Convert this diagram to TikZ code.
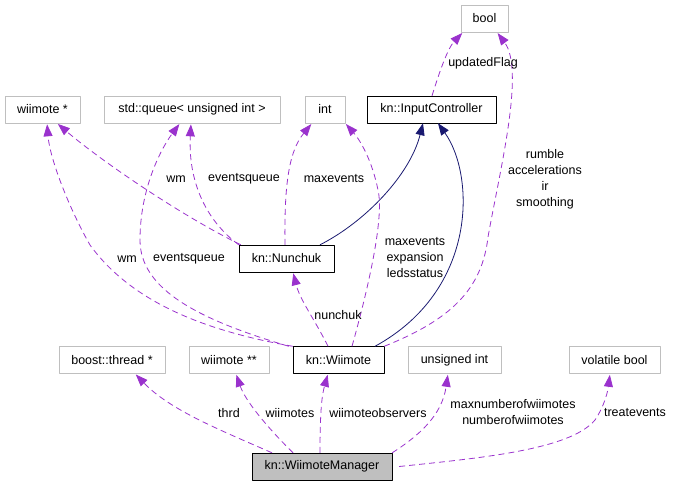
\documentclass[tikz,border=0pt]{standalone}
\usepackage{fontspec}
\setmainfont{Liberation Sans}
\usetikzlibrary{arrows.meta}
\definecolor{usecol}{HTML}{9A32CD}
\definecolor{inhcol}{HTML}{191970}
\definecolor{boxgray}{HTML}{BFBFBF}
\begin{document}
\begin{tikzpicture}[x=1pt,y=-1pt,font=\fontsize{12.5}{16}\selectfont,line join = round, >={Triangle[length=11pt,width=8pt]},
	box/.style={rectangle,draw=black,minimum height=27pt,inner sep=0pt},
	extbox/.style={box,draw=boxgray},
	usage/.style={draw=usecol,fill=none,line width=0.8pt,dash pattern=on 6pt off 4pt,->,>={Triangle[length=12pt,width=9pt,fill=usecol,sep]}},
	inherit/.style={draw=inhcol,line width=0.8pt,->,>={Triangle[length=12pt,width=9pt]}},
	lbl/.style={inner sep=0pt,align=center}]
	\useasboundingbox (0,0) rectangle (673,485);
	% type boxes
	\node[extbox,minimum width=47pt] (bool) at (484.5,18.5) {bool};
	\node[extbox,minimum width=75pt] (wiiptr) at (42.5,109.5) {wiimote *};
	\node[extbox,minimum width=176pt] (queue) at (192,109.5) {std::queue< unsigned int >};
	\node[extbox,minimum width=40pt] (int) at (325,109.5) {int};
	\node[box,minimum width=129pt] (ic) at (431.5,109.5) {kn::InputController};
	\node[box,minimum width=95pt] (nunchuk) at (286.5,258.5) {kn::Nunchuk};
	\node[box,minimum width=91pt] (wiimote) at (338.5,360) {kn::Wiimote};
	\node[extbox,minimum width=106pt] (thread) at (112,360) {boost::thread *};
	\node[extbox,minimum width=80pt] (wiipptr) at (229,360) {wiimote **};
	\node[extbox,minimum width=93pt] (uint) at (454.5,360) {unsigned int};
	\node[extbox,minimum width=91pt] (vbool) at (614.5,360) {volatile bool};
	\node[box,minimum width=140pt,fill=boxgray] (mgr) at (322,466.5) {kn::WiimoteManager};
	% inheritance
	\draw[inherit] ([xshift=33.5pt]nunchuk.north) .. controls (365,222) and (410,175) .. ([xshift=-8.5pt]ic.south);
	\draw[inherit] ([xshift=36.5pt]wiimote.north) .. controls (478,290) and (475,175) .. ([xshift=6.5pt]ic.south);
	% members
	\draw[usage] ([xshift=0.5pt]ic.north) .. controls (440,70) and (448,48) .. ([xshift=-21.5pt]bool.south);
	\draw[usage] (wiimote.north east) .. controls (450,320) and (482,290) .. (488,237) .. controls (500,170) and (525,70) .. ([xshift=12.5pt]bool.south);
	\draw[usage] ([xshift=2pt]nunchuk.north west) .. controls (180,215) and (100,160) .. ([xshift=14.5pt]wiiptr.south);
	\draw[usage] (nunchuk.north west) .. controls (205,220) and (188,180) .. ([xshift=-1pt]queue.south);
	\draw[usage] ([xshift=-1.5pt]nunchuk.north) .. controls (284,180) and (290,150) .. ([xshift=-13pt]int.south);
	\draw[usage] (wiimote.north west) .. controls (200,330) and (130,300) .. (90,245) .. controls (70,210) and (50,160) .. ([xshift=4.5pt]wiiptr.south);
	\draw[usage] ([xshift=-4pt]wiimote.north west) .. controls (200,320) and (140,290) .. (140,240) .. controls (140,190) and (160,150) .. ([xshift=-12pt]queue.south);
	\draw[usage] ([xshift=13.5pt]wiimote.north) .. controls (365,300) and (385,220) .. (378,190) .. controls (372,160) and (360,140) .. (int.south east);
	\draw[usage] ([xshift=-10.5pt]wiimote.north) .. controls (315,320) and (300,300) .. ([xshift=6.5pt]nunchuk.south);
	\draw[usage] ([xshift=-50pt]mgr.north) .. controls (220,430) and (170,410) .. ([xshift=23pt]thread.south);
	\draw[usage] ([xshift=-29pt]mgr.north) .. controls (265,425) and (245,400) .. ([xshift=7pt]wiipptr.south);
	\draw[usage] ([xshift=-2pt]mgr.north) .. controls (320,410) and (322,395) .. ([xshift=-10.5pt]wiimote.south);
	\draw[usage] (mgr.north east) .. controls (420,435) and (442,415) .. ([xshift=-6.5pt]uint.south);
	\draw[usage] ([xshift=7pt]mgr.east) .. controls (480,458) and (570,450) .. (595,420) .. controls (605,405) and (608,390) .. ([xshift=-4.5pt]vbool.south);
	% member names
	\node[lbl] (lflag) at (483,63) {updatedFlag};
	\node[lbl] (lrumble) at (545,179) {rumble\\accelerations\\ir\\smoothing};
	\node[lbl] (lwm1) at (176,179) {wm};
	\node[lbl] (leq1) at (244,179) {eventsqueue};
	\node[lbl] (lmax1) at (334,179) {maxevents};
	\node[lbl] (lmax2) at (415,258) {maxevents\\expansion\\ledsstatus};
	\node[lbl] (lwm2) at (127,259) {wm};
	\node[lbl] (leq2) at (189,259) {eventsqueue};
	\node[lbl] (lnun) at (338,315) {nunchuk};
	\node[lbl] (lthrd) at (229,413) {thrd};
	\node[lbl] (lwiis) at (290,413) {wiimotes};
	\node[lbl] (lobs) at (378,413) {wiimoteobservers};
	\node[lbl] (lnum) at (513,412) {maxnumberofwiimotes\\numberofwiimotes};
	\node[lbl] (ltreat) at (635,413) {treatevents};
\end{tikzpicture}
\end{document}
